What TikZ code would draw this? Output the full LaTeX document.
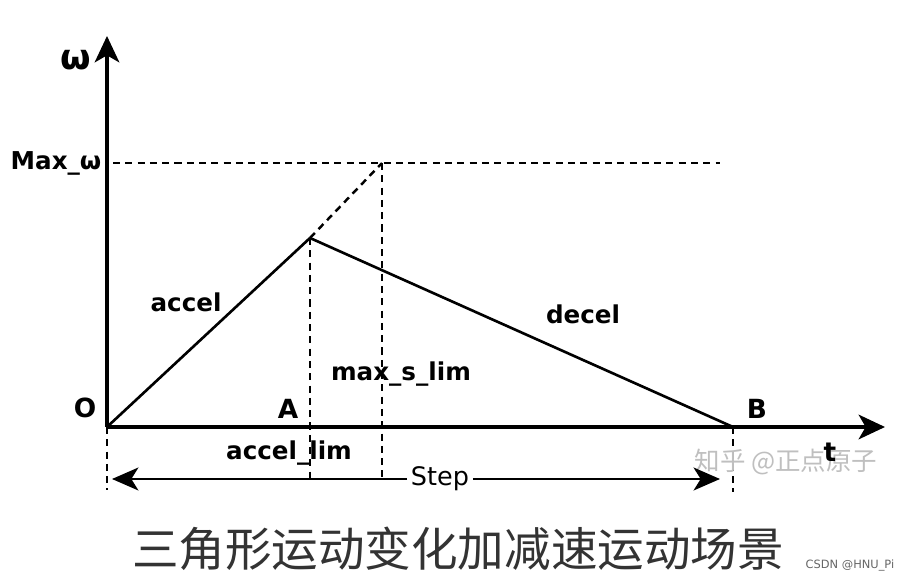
\documentclass[tikz,border=0pt]{standalone}
\usepackage{fontspec}
\setmainfont{DejaVu Sans}
\newfontfamily\cjk{Noto Sans CJK SC}
\usetikzlibrary{arrows.meta, positioning}
\tikzstyle{every node}=[font=\bfseries\fontsize{14}{16}\selectfont, inner sep=1pt]
\tikzstyle{axis}=[line width=2pt, -{Stealth[length=15pt, width=14pt, inset=4pt]}]
\tikzstyle{ramp}=[line width=1.5pt]
\tikzstyle{guide}=[line width=1.4pt, dash pattern=on 4pt off 3pt]
\tikzstyle{span}=[line width=1.5pt, -{Stealth[length=15pt, width=13pt, inset=4pt]}]

\begin{document}
\begin{tikzpicture}[x=0.02cm, y=-0.02cm]
  \useasboundingbox (0,0) rectangle (904,581);
  \fill[white] (0,0) rectangle (904,581);
  % key points
  \coordinate (O) at (107,427);
  \coordinate (peak) at (310,238);
  \coordinate (top) at (382,163);
  \coordinate (B) at (733,427);
  \coordinate (ytip) at (107,36);
  \coordinate (xtip) at (885,427);
  \coordinate (maxL) at (113,163);
  \coordinate (maxR) at (720,163);
  \coordinate (Obot) at (107,490);
  \coordinate (Bbot) at (733,492);
  \coordinate (peakbot) at (310,478);
  \coordinate (topbot) at (382,478);
  \coordinate (stepL) at (112,479);
  \coordinate (stepR) at (720,479);
  % axes
  \draw[axis] (O) -- (ytip);
  \draw[axis] (O) -- (xtip);
  % guides
  \draw[guide] (maxL) -- (maxR);
  \draw[guide] (peak) -- (top);
  \draw[guide] (peak) -- (peakbot);
  \draw[guide] (top) -- (topbot);
  \draw[guide] (O) -- (Obot);
  \draw[guide] (B) -- (Bbot);
  % profile
  \draw[ramp] (O) -- (peak);
  \draw[ramp] (peak) -- (B);
  % watermarks and caption
  \node[font=\cjk\fontsize{14.5}{16}\selectfont, text=black!25] (zh) at (786,462) {知乎 @正点原子};
  \node[font=\cjk\fontsize{26.5}{30}\selectfont, text=black!80] (cap) at (458,549) {三角形运动变化加减速运动场景};
  \node[font=\fontsize{6.5}{8}\selectfont\mdseries, text=black!60] (csdn) at (850,566) {CSDN @HNU\_Pi};
  % labels
  \node[font=\bfseries\fontsize{20}{22}\selectfont] (w) at (76,60) {ω};
  \node (maxw) at (56,163) {Max\_ω};
  \node[font=\bfseries\fontsize{15}{17}\selectfont] (lO) at (85,408) {O};
  \node[font=\bfseries\fontsize{15}{17}\selectfont] (lA) at (288,409) {A};
  \node[font=\bfseries\fontsize{15}{17}\selectfont] (lB) at (757,409) {B};
  \node[font=\bfseries\fontsize{15}{17}\selectfont] (lt) at (830,452) {t};
  \node (acc) at (186,302) {accel};
  \node (dec) at (583,314) {decel};
  \node (msl) at (401,374) {max\_s\_lim};
  \node (alim) at (289,453) {accel\_lim};
  \node[font=\fontsize{14.5}{16}\selectfont, fill=white, inner sep=2pt] (step) at (440,479) {Step};
  \draw[span] (step) -- (stepL);
  \draw[span] (step) -- (stepR);
\end{tikzpicture}
\end{document}
